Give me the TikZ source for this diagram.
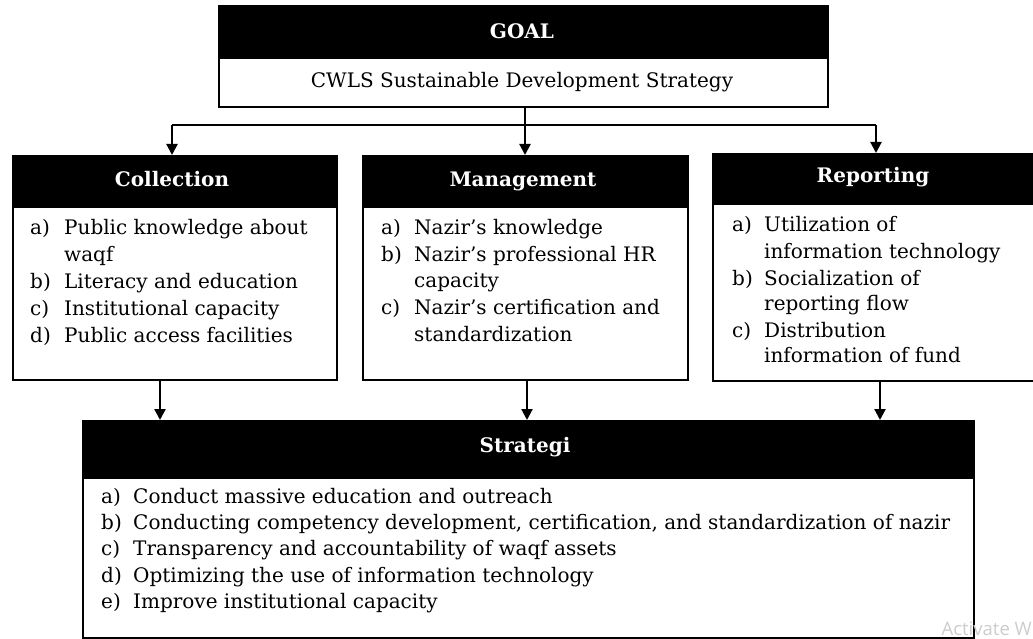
\documentclass[tikz,border=0pt]{standalone}
\usepackage{fontspec}
\setmainfont{DejaVu Serif}
\newfontfamily\wmfont{Open Sans}
\usetikzlibrary{arrows.meta}
\newcommand{\bodyfont}{\fontsize{20}{24}\selectfont}
\newcommand{\headfont}{\fontsize{20}{24}\selectfont\bfseries}
\begin{document}
\begin{tikzpicture}[x=1pt,y=-1pt,
  boxbody/.style={draw=black,line width=2.2pt,fill=white,anchor=north west,inner sep=0pt},
  hdr/.style={fill=black,draw=black,line width=2.2pt,anchor=north west,inner sep=0pt,text=white,font=\headfont},
  item/.style={anchor=base west,inner sep=0pt,font=\bodyfont},
  conn/.style={line width=2.2pt},
  arr/.style={line width=2.2pt,-{Triangle[width=11pt,length=11pt]}}]
\useasboundingbox (0,0) rectangle (1033,639);
\begin{scope}
\clip (0,0) rectangle (1033,639);
% GOAL
\node[boxbody,minimum width=609pt,minimum height=101pt] (goal) at (218,5) {};
\node[hdr,minimum width=609pt,minimum height=52pt] (goalh) at (218,5) {};
\node[anchor=base,inner sep=0pt,text=white,font=\headfont] (goalt) at (522,39) {GOAL};
\node[anchor=base,inner sep=0pt,font=\bodyfont] (goals) at (522,88) {CWLS Sustainable Development Strategy};
% Collection
\node[boxbody,minimum width=324pt,minimum height=224pt] (coll) at (12,155) {};
\node[hdr,minimum width=324pt,minimum height=51pt] (collh) at (12,155) {};
\node[anchor=base,inner sep=0pt,text=white,font=\headfont] (collt) at (172,186) {Collection};
\node[item] (ca) at (30,234) {a)};
\node[item] (ca1) at (64,234) {Public knowledge about};
\node[item] (ca2) at (64,261) {waqf};
\node[item] (cb) at (30,288) {b)};
\node[item] (cb1) at (64,288) {Literacy and education};
\node[item] (cc) at (30,315) {c)};
\node[item] (cc1) at (64,315) {Institutional capacity};
\node[item] (cd) at (30,342) {d)};
\node[item] (cd1) at (64,342) {Public access facilities};
% Management
\node[boxbody,minimum width=325pt,minimum height=224pt] (mgmt) at (362,155) {};
\node[hdr,minimum width=325pt,minimum height=51pt] (mgmth) at (362,155) {};
\node[anchor=base,inner sep=0pt,text=white,font=\headfont] (mgmtt) at (523,186) {Management};
\node[item] (ma) at (381,234) {a)};
\node[item] (ma1) at (414,234) {Nazir’s knowledge};
\node[item] (mb) at (381,261) {b)};
\node[item] (mb1) at (414,261) {Nazir’s professional HR};
\node[item] (mb2) at (414,287) {capacity};
\node[item] (mc) at (381,314) {c)};
\node[item] (mc1) at (414,314) {Nazir’s certification and};
\node[item] (mc2) at (414,341) {standardization};
% Reporting
\node[boxbody,minimum width=330pt,minimum height=227pt] (rep) at (712,153) {};
\node[hdr,minimum width=330pt,minimum height=50pt] (reph) at (712,153) {};
\node[anchor=base,inner sep=0pt,text=white,font=\headfont] (rept) at (873,183) {Reporting};
\node[item] (ra) at (732,232) {a)};
\node[item] (ra1) at (764,232) {Utilization of};
\node[item] (ra2) at (764,258) {information technology};
\node[item] (rb) at (732,285) {b)};
\node[item] (rb1) at (764,285) {Socialization of};
\node[item] (rb2) at (764,310) {reporting flow};
\node[item] (rc) at (732,337) {c)};
\node[item] (rc1) at (764,337) {Distribution};
\node[item] (rc2) at (764,362) {information of fund};
% Strategi
\node[boxbody,minimum width=891pt,minimum height=217pt] (str) at (82,420) {};
\node[hdr,minimum width=891pt,minimum height=57pt] (strh) at (82,420) {};
\node[anchor=base,inner sep=0pt,text=white,font=\headfont] (strt) at (525,452) {Strategi};
\node[item] (sa) at (101,503) {a)};
\node[item] (sa1) at (133,503) {Conduct massive education and outreach};
\node[item] (sb) at (101,529) {b)};
\node[item] (sb1) at (133,529) {Conducting competency development, certification, and standardization of nazir};
\node[item] (sc) at (101,555) {c)};
\node[item] (sc1) at (133,555) {Transparency and accountability of waqf assets};
\node[item] (sd) at (101,582) {d)};
\node[item] (sd1) at (133,582) {Optimizing the use of information technology};
\node[item] (se) at (101,608) {e)};
\node[item] (se1) at (133,608) {Improve institutional capacity};
% connectors
\coordinate (hL) at (172,125);
\coordinate (hM) at (525,125);
\coordinate (hR) at (876,125);
\draw[conn] (goal.south -| hM) -- (hM);
\draw[conn] (hL) -- (hR);
\draw[arr] (hL) -- (hL |- coll.north);
\draw[arr] (hM) -- (hM |- mgmt.north);
\draw[arr] (hR) -- (hR |- rep.north);
\coordinate (lA) at (160,0);
\coordinate (lB) at (527,0);
\coordinate (lC) at (880,0);
\draw[arr] (lA |- coll.south) -- (lA |- str.north);
\draw[arr] (lB |- mgmt.south) -- (lB |- str.north);
\draw[arr] (lC |- rep.south) -- (lC |- str.north);
% watermark
\node[anchor=base east,inner sep=0pt,text=black!20,font=\wmfont\fontsize{18.5}{20}\selectfont] (wm) at (1032,635) {Activate W};
\end{scope}
\end{tikzpicture}
\end{document}
